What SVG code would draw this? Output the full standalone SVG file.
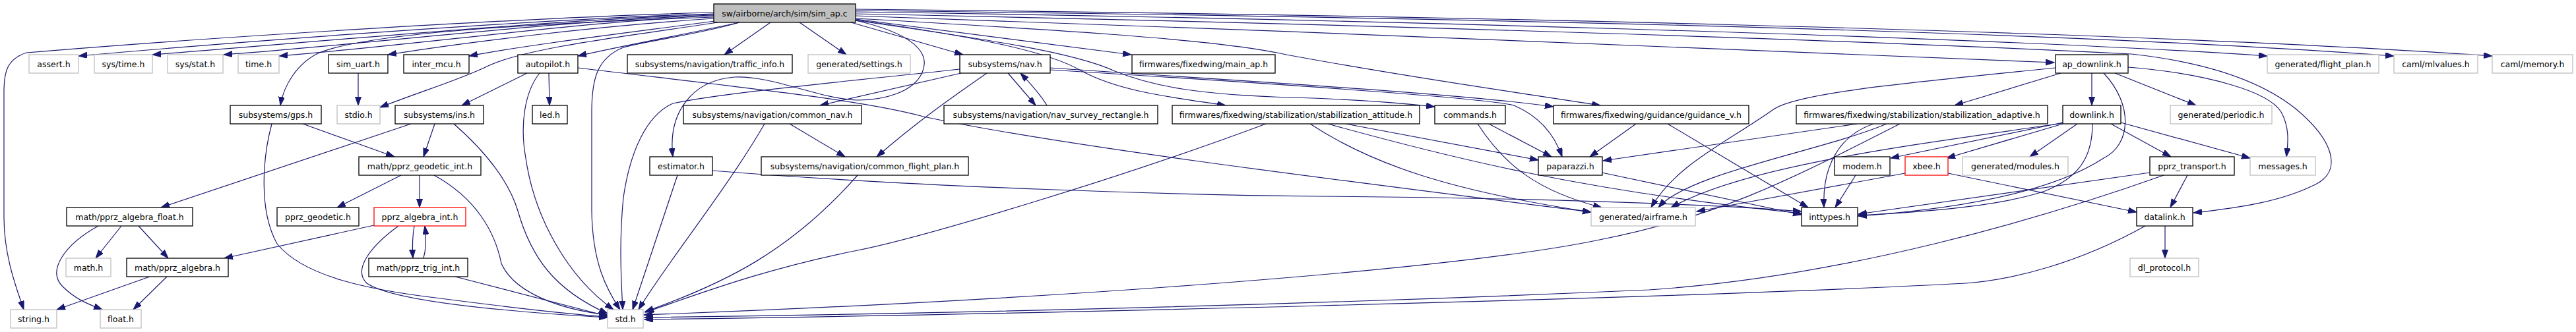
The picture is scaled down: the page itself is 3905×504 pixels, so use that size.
<svg xmlns="http://www.w3.org/2000/svg" width="3905" height="504" viewBox="0 0 3905 504">
<defs>
<style>
.e{fill:none;stroke:#191970;stroke-width:1.2;marker-end:url(#a)}
.n rect{fill:#fff;stroke:#000;stroke-width:1.3}
.g rect{fill:#fff;stroke:#bfbfbf;stroke-width:1.3}
.r rect{fill:#fff;stroke:#ff0000;stroke-width:1.3}
.m rect{fill:#bfbfbf;stroke:#000;stroke-width:1.3}
text{font-family:"DejaVu Sans","Liberation Sans",sans-serif;font-size:12.5px;text-anchor:middle;fill:#000}
</style>
<marker id="a" markerWidth="14" markerHeight="10" refX="13" refY="4.5" orient="auto" markerUnits="userSpaceOnUse"><path d="M0,0 L13,4.5 L0,9 z" fill="#191970" stroke="#191970" stroke-width="1"/></marker>
</defs>
<rect x="0" y="0" width="3905" height="504" fill="#fff"/>
<g id="edges">
<path class="e" d="M1082,19 C800,26 300,58 40,80 C10,90 6,110 6,140 L6,330 C6,390 26,440 36,470"/>
<path class="e" d="M1082,21 C850,27 400,60 119,85"/>
<path class="e" d="M1082,22 C850,29 500,62 231,83"/>
<path class="e" d="M1082,23 C850,31 580,65 339,83"/>
<path class="e" d="M1082,24 C880,33 650,66 423,85"/>
<path class="e" d="M1082,26 C800,36 560,50 484,80 C450,96 430,130 425,160"/>
<path class="e" d="M1082,28 C900,40 700,65 588,83"/>
<path class="e" d="M1084,32 C950,50 800,68 711,85"/>
<path class="e" d="M1088,34 C950,55 800,72 740,100 C700,120 640,138 576,163"/>
<path class="e" d="M1121,34 C1050,50 950,68 876,85"/>
<path class="e" d="M1121,34 C1060,52 980,62 945,72 C905,88 897,120 897,170 L897,320 C898,400 920,440 940,470"/>
<path class="e" d="M1168,34 L1098,83"/>
<path class="e" d="M1212,34 L1283,83"/>
<path class="e" d="M1290,34 L1460,83"/>
<path class="e" d="M1297,31 C1380,50 1412,78 1398,110 C1385,140 1340,152 1300,152 C1240,150 1170,114 1113,117 C1050,122 1012,170 1020,238"/>
<path class="e" d="M1297,29 L1715,83"/>
<path class="e" d="M1297,30 C1480,56 1590,78 1640,108 C1700,140 1780,148 1858,160"/>
<path class="e" d="M1297,31 C1500,60 1630,80 1690,108 C1750,132 1820,144 1960,148 C2060,151 2120,156 2175,162"/>
<path class="e" d="M1297,28 C1600,45 1850,60 1950,83 C2150,120 2300,140 2426,160"/>
<path class="e" d="M1297,24 C1900,45 2600,72 3114,95"/>
<path class="e" d="M1297,21 C2000,35 2800,60 3231,82 C3350,95 3430,125 3480,165 C3540,215 3550,260 3510,280 C3460,305 3400,315 3325,323"/>
<path class="e" d="M1297,18 C2000,28 3000,55 3437,85"/>
<path class="e" d="M1297,16 C2100,25 3100,45 3629,85"/>
<path class="e" d="M1297,14 C2100,22 3200,45 3778,85"/>
<path class="e" d="M543,111 L543,160"/>
<path class="e" d="M459,188 L598,238"/>
<path class="e" d="M412,188 C398,240 392,320 420,370 C460,420 560,440 660,452 C760,465 850,476 921,481"/>
<path class="e" d="M659,188 L642,238"/>
<path class="e" d="M623,188 L244,315"/>
<path class="e" d="M688,188 C730,225 770,270 785,320 C805,390 840,440 921,476"/>
<path class="e" d="M799,111 L700,160"/>
<path class="e" d="M832,111 L833,160"/>
<path class="e" d="M818,111 C795,140 788,190 797,240 C810,330 860,420 930,470"/>
<path class="e" d="M876,103 C1100,130 1300,150 1400,177 C1600,220 2000,270 2412,322"/>
<path class="e" d="M608,266 L511,315"/>
<path class="e" d="M636,266 L636,315"/>
<path class="e" d="M658,266 C720,300 750,350 760,400 C780,445 850,470 921,478"/>
<path class="e" d="M567,342 L340,392"/>
<path class="e" d="M628,343 C625,360 625,378 626,392"/>
<path class="e" d="M642,392 C646,378 646,360 644,343"/>
<path class="e" d="M604,343 C560,375 535,410 556,430 C600,460 800,475 921,482"/>
<path class="e" d="M690,420 L921,480"/>
<path class="e" d="M184,343 L145,392"/>
<path class="e" d="M210,343 L255,392"/>
<path class="e" d="M149,343 C100,370 70,410 95,435 C115,455 135,462 155,470"/>
<path class="e" d="M227,420 L86,470"/>
<path class="e" d="M253,420 L202,470"/>
<path class="e" d="M1528,111 L1570,160"/>
<path class="e" d="M1587,160 C1575,140 1560,125 1547,111"/>
<path class="e" d="M1496,111 C1440,150 1390,185 1329,238"/>
<path class="e" d="M1457,111 L1243,160"/>
<path class="e" d="M1455,105 C1300,122 1100,140 1020,157 C980,175 955,230 945,300 C938,370 942,430 944,470"/>
<path class="e" d="M1592,103 C1800,118 2200,140 2355,162"/>
<path class="e" d="M1592,106 C1900,125 2250,148 2295,160 C2330,175 2355,200 2368,238"/>
<path class="e" d="M1197,188 L1281,238"/>
<path class="e" d="M1159,188 C1100,290 1010,400 968,470"/>
<path class="e" d="M1300,266 C1200,380 1100,430 978,473"/>
<path class="e" d="M1027,266 L959,470"/>
<path class="e" d="M1080,259 C1400,285 1800,296 2000,298 C2300,300 2600,310 2731,321"/>
<path class="e" d="M1986,188 C2080,250 2200,290 2412,322"/>
<path class="e" d="M2013,188 C2200,240 2400,290 2731,324"/>
<path class="e" d="M2040,188 L2332,243"/>
<path class="e" d="M1919,188 C1700,270 1400,360 1300,380 C1150,410 1050,450 978,474"/>
<path class="e" d="M2257,188 L2352,238"/>
<path class="e" d="M2240,188 C2280,250 2330,290 2428,315"/>
<path class="e" d="M2480,188 L2410,238"/>
<path class="e" d="M2528,188 L2741,315"/>
<path class="e" d="M2428,262 L2731,326"/>
<path class="e" d="M3124,111 L2963,160"/>
<path class="e" d="M3171,111 L3171,160"/>
<path class="e" d="M3189,111 C3235,160 3230,220 3189,240 C3120,285 3000,315 2817,328"/>
<path class="e" d="M3206,111 L3329,160"/>
<path class="e" d="M3226,102 C3350,112 3440,140 3458,170 C3472,195 3468,220 3466,238"/>
<path class="e" d="M3116,103 C2900,125 2730,140 2690,165 C2620,215 2540,250 2503,315"/>
<path class="e" d="M2815,188 L2430,244"/>
<path class="e" d="M2840,188 C2790,205 2762,250 2765,315"/>
<path class="e" d="M2860,188 C2760,230 2560,262 2514,315"/>
<path class="e" d="M2880,188 C2700,280 2600,330 2420,365 C2200,410 1600,455 976,478"/>
<path class="e" d="M3127,186 L2866,240"/>
<path class="e" d="M3127,188 L2951,240"/>
<path class="e" d="M3149,188 L3077,238"/>
<path class="e" d="M3200,188 L3291,238"/>
<path class="e" d="M3215,186 L3411,240"/>
<path class="e" d="M3172,188 C3172,240 3150,270 3100,290 C3040,310 2950,320 2817,327"/>
<path class="e" d="M3127,187 C2900,220 2650,250 2533,315"/>
<path class="e" d="M2888,263 L2572,321"/>
<path class="e" d="M2953,263 L3239,322"/>
<path class="e" d="M2813,266 L2782,315"/>
<path class="e" d="M3316,266 L3290,315"/>
<path class="e" d="M3259,262 L2817,325"/>
<path class="e" d="M3280,266 C3100,330 2800,420 2500,440 C2000,462 1500,475 977,482"/>
<path class="e" d="M3282,343 L3282,392"/>
<path class="e" d="M3252,343 C3150,400 3050,425 2980,430 C2500,455 1500,478 977,485"/>
</g>
<g id="sim_ap" class="m"><rect x="1082" y="6" width="215" height="28"/><text x="1189.5" y="24.5">sw/airborne/arch/sim/sim_ap.c</text></g>
<g id="assert" class="g"><rect x="44" y="83" width="75" height="28"/><text x="81.5" y="101.5">assert.h</text></g>
<g id="sys_time" class="g"><rect x="143" y="83" width="88" height="28"/><text x="187" y="101.5">sys/time.h</text></g>
<g id="sys_stat" class="g"><rect x="254" y="83" width="84" height="28"/><text x="296" y="101.5">sys/stat.h</text></g>
<g id="time" class="g"><rect x="361" y="83" width="62" height="28"/><text x="392" y="101.5">time.h</text></g>
<g id="sim_uart" class="n"><rect x="498" y="83" width="90" height="28"/><text x="543" y="101.5">sim_uart.h</text></g>
<g id="inter_mcu" class="n"><rect x="612" y="83" width="99" height="28"/><text x="661.5" y="101.5">inter_mcu.h</text></g>
<g id="autopilot" class="n"><rect x="785" y="83" width="91" height="28"/><text x="830.5" y="101.5">autopilot.h</text></g>
<g id="traffic_info" class="n"><rect x="951" y="83" width="250" height="28"/><text x="1076" y="101.5">subsystems/navigation/traffic_info.h</text></g>
<g id="settings" class="g"><rect x="1225" y="83" width="155" height="28"/><text x="1302.5" y="101.5">generated/settings.h</text></g>
<g id="nav" class="n"><rect x="1455" y="83" width="137" height="28"/><text x="1523.5" y="101.5">subsystems/nav.h</text></g>
<g id="main_ap" class="n"><rect x="1716" y="83" width="217" height="28"/><text x="1824.5" y="101.5">firmwares/fixedwing/main_ap.h</text></g>
<g id="ap_downlink" class="n"><rect x="3116" y="83" width="110" height="28"/><text x="3171" y="101.5">ap_downlink.h</text></g>
<g id="flight_plan" class="g"><rect x="3437" y="83" width="169" height="28"/><text x="3521.5" y="101.5">generated/flight_plan.h</text></g>
<g id="mlvalues" class="g"><rect x="3629" y="83" width="127" height="28"/><text x="3692.5" y="101.5">caml/mlvalues.h</text></g>
<g id="memory" class="g"><rect x="3778" y="83" width="122" height="28"/><text x="3839" y="101.5">caml/memory.h</text></g>
<g id="gps" class="n"><rect x="349" y="160" width="138" height="28"/><text x="418" y="178.5">subsystems/gps.h</text></g>
<g id="stdio" class="g"><rect x="511" y="160" width="65" height="28"/><text x="543.5" y="178.5">stdio.h</text></g>
<g id="ins" class="n"><rect x="599" y="160" width="134" height="28"/><text x="666" y="178.5">subsystems/ins.h</text></g>
<g id="led" class="n"><rect x="807" y="160" width="53" height="28"/><text x="833.5" y="178.5">led.h</text></g>
<g id="common_nav" class="n"><rect x="1036" y="160" width="270" height="28"/><text x="1171" y="178.5">subsystems/navigation/common_nav.h</text></g>
<g id="nav_survey" class="n"><rect x="1431" y="160" width="324" height="28"/><text x="1593" y="178.5">subsystems/navigation/nav_survey_rectangle.h</text></g>
<g id="stab_att" class="n"><rect x="1777" y="160" width="375" height="28"/><text x="1964.5" y="178.5">firmwares/fixedwing/stabilization/stabilization_attitude.h</text></g>
<g id="commands" class="n"><rect x="2175" y="160" width="107" height="28"/><text x="2228.5" y="178.5">commands.h</text></g>
<g id="guidance_v" class="n"><rect x="2355" y="160" width="296" height="28"/><text x="2503" y="178.5">firmwares/fixedwing/guidance/guidance_v.h</text></g>
<g id="stab_adapt" class="n"><rect x="2723" y="160" width="381" height="28"/><text x="2913.5" y="178.5">firmwares/fixedwing/stabilization/stabilization_adaptive.h</text></g>
<g id="downlink" class="n"><rect x="3127" y="160" width="88" height="28"/><text x="3171" y="178.5">downlink.h</text></g>
<g id="periodic" class="g"><rect x="3290" y="160" width="154" height="28"/><text x="3367" y="178.5">generated/periodic.h</text></g>
<g id="geodetic_int" class="n"><rect x="544" y="238" width="185" height="28"/><text x="636.5" y="256.5">math/pprz_geodetic_int.h</text></g>
<g id="estimator" class="n"><rect x="985" y="238" width="95" height="28"/><text x="1032.5" y="256.5">estimator.h</text></g>
<g id="common_fp" class="n"><rect x="1154" y="238" width="314" height="28"/><text x="1311" y="256.5">subsystems/navigation/common_flight_plan.h</text></g>
<g id="paparazzi" class="n"><rect x="2332" y="238" width="97" height="28"/><text x="2380.5" y="256.5">paparazzi.h</text></g>
<g id="modem" class="n"><rect x="2781" y="238" width="84" height="28"/><text x="2823" y="256.5">modem.h</text></g>
<g id="xbee" class="r"><rect x="2888" y="238" width="65" height="28"/><text x="2920.5" y="256.5">xbee.h</text></g>
<g id="modules" class="g"><rect x="2975" y="238" width="160" height="28"/><text x="3055" y="256.5">generated/modules.h</text></g>
<g id="pprz_transport" class="n"><rect x="3259" y="238" width="128" height="28"/><text x="3323" y="256.5">pprz_transport.h</text></g>
<g id="messages" class="g"><rect x="3411" y="238" width="99" height="28"/><text x="3460.5" y="256.5">messages.h</text></g>
<g id="algebra_float" class="n"><rect x="101" y="315" width="191" height="28"/><text x="196.5" y="333.5">math/pprz_algebra_float.h</text></g>
<g id="pprz_geodetic" class="n"><rect x="420" y="315" width="124" height="28"/><text x="482" y="333.5">pprz_geodetic.h</text></g>
<g id="algebra_int" class="r"><rect x="567" y="315" width="139" height="28"/><text x="636.5" y="333.5">pprz_algebra_int.h</text></g>
<g id="airframe" class="g"><rect x="2412" y="315" width="158" height="28"/><text x="2491" y="333.5">generated/airframe.h</text></g>
<g id="inttypes" class="n"><rect x="2731" y="315" width="85" height="28"/><text x="2773.5" y="333.5">inttypes.h</text></g>
<g id="datalink" class="n"><rect x="3239" y="315" width="85" height="28"/><text x="3281.5" y="333.5">datalink.h</text></g>
<g id="math" class="g"><rect x="100" y="392" width="68" height="28"/><text x="134" y="410.5">math.h</text></g>
<g id="algebra" class="n"><rect x="192" y="392" width="154" height="28"/><text x="269" y="410.5">math/pprz_algebra.h</text></g>
<g id="trig_int" class="n"><rect x="559" y="392" width="150" height="28"/><text x="634" y="410.5">math/pprz_trig_int.h</text></g>
<g id="dl_protocol" class="g"><rect x="3229" y="392" width="104" height="28"/><text x="3281" y="410.5">dl_protocol.h</text></g>
<g id="string" class="g"><rect x="16" y="470" width="70" height="28"/><text x="51" y="488.5">string.h</text></g>
<g id="float" class="g"><rect x="152" y="470" width="62" height="28"/><text x="183" y="488.5">float.h</text></g>
<g id="std" class="g"><rect x="921" y="470" width="54" height="28"/><text x="948" y="488.5">std.h</text></g>
</svg>
